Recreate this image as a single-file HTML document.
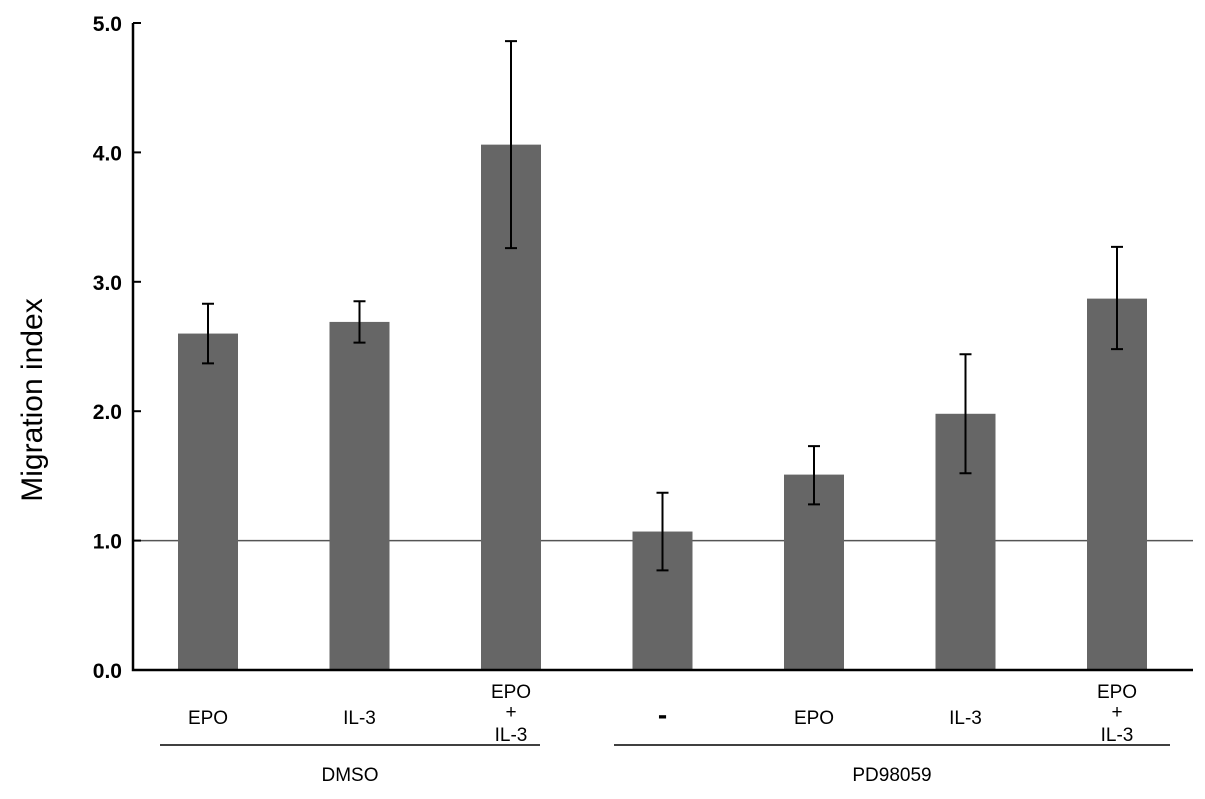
<!DOCTYPE html>
<html><head><meta charset="utf-8"><style>
body{margin:0;background:#fff}
text{font-family:"Liberation Sans",sans-serif;fill:#000}
</style></head><body>
<svg width="1205" height="794">
<g id="g"></g>
</svg>
<script>
const categories=["EPO","IL-3","EPO+IL-3","-","EPO","IL-3","EPO+IL-3"];
const values=[2.6,2.69,4.06,1.07,1.51,1.98,2.87];
const errLow=[2.37,2.53,3.26,0.77,1.28,1.52,2.48];
const errHigh=[2.83,2.85,4.86,1.37,1.73,2.44,3.27];
const yTicks=[0,1,2,3,4,5];
const tickLabels=["0.0","1.0","2.0","3.0","4.0","5.0"];
const NS="http://www.w3.org/2000/svg";
const g=document.getElementById('g');
const y=v=>670-v*129.4;
const xc=i=>208+i*151.5;
function mk(t,a,txt){const e=document.createElementNS(NS,t);for(const k in a)e.setAttribute(k,a[k]);if(txt!=null)e.textContent=txt;g.appendChild(e);return e;}
let e;
e=mk('line',{x1:133,x2:1193,y1:y(1),y2:y(1),stroke:'#555','stroke-width':1.5});


values.forEach((v,i)=>{
 e=mk('rect',{x:xc(i)-30,y:y(v),width:60,height:y(0)-y(v),fill:'#666'});
 
 
 const x=xc(i);
 e=mk('path',{d:`M${x},${y(errLow[i])}V${y(errHigh[i])}M${x-6},${y(errLow[i])}H${x+6}M${x-6},${y(errHigh[i])}H${x+6}`,stroke:'#000','stroke-width':2,fill:'none'});
 
 
 const c=categories[i];
 if(c==="EPO+IL-3"){
  [["EPO",698],["+",718],["IL-3",741]].forEach(([t,yy])=>{e=mk('text',{x:x,y:yy,'text-anchor':'middle','font-size':19},t);
  
  });
 } else if(c==="-"){
  e=mk('text',{x:x,y:724,'text-anchor':'middle','font-size':28,'font-weight':'bold'},c);
  
  
 } else {
  e=mk('text',{x:x,y:724,'text-anchor':'middle','font-size':19},c);
  
  
 }
});
e=mk('path',{d:`M133,${y(5)}V${y(0)}H1193`,stroke:'#000','stroke-width':2.5,fill:'none'});


yTicks.forEach((t,i)=>{
 e=mk('line',{x1:133,x2:141,y1:y(t),y2:y(t),stroke:'#000','stroke-width':2});
 
 
 e=mk('text',{x:122,y:y(t)+8,'text-anchor':'end','font-size':21,'font-weight':'bold'},tickLabels[i]);
 
 
});
e=mk('text',{x:0,y:0,'font-size':30,'text-anchor':'middle',transform:'translate(42,400) rotate(-90)'},'Migration index');


[[160,540,350,'DMSO'],[614,1170,892,'PD98059']].forEach(([a,b,m,t])=>{
 e=mk('line',{x1:a,x2:b,y1:745,y2:745,stroke:'#000','stroke-width':1.5});
 
 
 e=mk('text',{x:m,y:781,'text-anchor':'middle','font-size':19},t);
 
 
});
</script>
</body></html>
